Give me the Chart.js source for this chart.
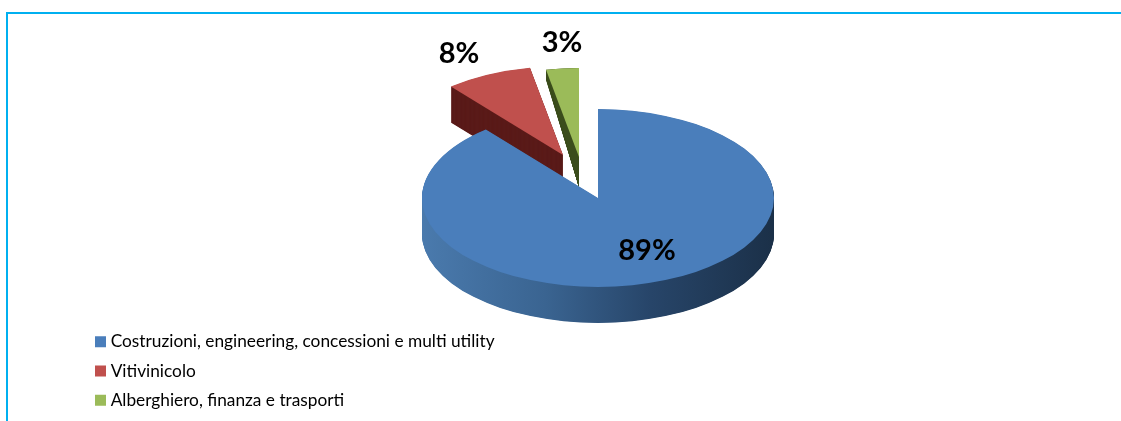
<!DOCTYPE html>
<html>
<head>
<meta charset="utf-8">
<style>
  html, body { margin: 0; padding: 0; background: #fff; }
  #wrap { position: relative; width: 1121px; height: 421px; overflow: hidden; }
  #frame { position: absolute; left: 6px; top: 12px; width: 1200px; height: 500px; border: 2px solid #00b0f0; box-sizing: border-box; }
  canvas { position: absolute; left: 0; top: 0; }
</style>
<script src="https://cdn.jsdelivr.net/npm/chart.js@4"></script>
</head>
<body>
<div id="wrap">
  <div id="frame"></div>
  <canvas id="chart" width="1121" height="421"></canvas>
</div>
<script>
const categories = [
    "Costruzioni, engineering, concessioni e multi utility",
    "Vitivinicolo",
    "Alberghiero, finanza e trasporti",
];
const shares = [89, 8, 3];
const sliceColors = ["#4a7ebb", "#c0504d", "#9bbb59"];

// look of the fake 3D pie
const PIE_X = 598;
const PIE_Y = 198;
const PIE_RADIUS = 176;
const SQUASH = 0.505;
const DEPTH = 36;
const EXPLODE = [[0, 0], [-35, -43], [-19, -41]];
const GREEN_APEX_DROP = 30;
const GREEN_RIM_DROP = 10;
const LABEL_POS = [[647, 251], [459, 54], [562, 43]];
const DRAW_ORDER = [2, 1, 0];

function sideFill(ctx, index) {
    if (index === 1) return "#5a1b19";
    if (index === 2) return "#3b4d1c";
    const grad = ctx.createLinearGradient(PIE_X - PIE_RADIUS, 0, PIE_X + PIE_RADIUS, 0);
    grad.addColorStop(0, "#4a7aad");
    grad.addColorStop(0.35, "#3a6491");
    grad.addColorStop(0.65, "#274569");
    grad.addColorStop(1, "#1b3048");
    return grad;
}

function slicePath(ctx, arc, x, y, apexDrop) {
    // ellipse in screen space, angles and radius come from the chart's arc element
    ctx.beginPath();
    ctx.moveTo(x, y + (apexDrop || 0));
    ctx.ellipse(x, y, arc.outerRadius, arc.outerRadius * SQUASH, 0, arc.startAngle, arc.endAngle);
    ctx.closePath();
}

const pie3d = {
    id: "pie3d",
    afterLayout(chart) {
        // legend sits bottom left, under the pie, out of the layout flow
        const legend = chart.legend;
        const w = legend.width, h = legend.height;
        legend.left = 87;
        legend.right = 87 + w;
        legend.top = 321;
        legend.bottom = 321 + h;
    },
    beforeDatasetsDraw(chart) {
        const ctx = chart.ctx;
        const arcs = chart.getDatasetMeta(0).data;
        DRAW_ORDER.forEach((i) => {
            const arc = arcs[i];
            const x = PIE_X + EXPLODE[i][0];
            const y = PIE_Y + EXPLODE[i][1];
            ctx.fillStyle = sideFill(ctx, i);
            if (i === 2) {
                // the green wedge wall gets thinner towards its outer edge
                for (let d = GREEN_RIM_DROP; d >= 0; d -= 0.5) {
                    slicePath(ctx, arc, x, y + d, GREEN_APEX_DROP - d);
                    ctx.fill();
                }
            } else {
                for (let d = DEPTH; d > 0; d -= 0.5) {
                    slicePath(ctx, arc, x, y + d);
                    ctx.fill();
                }
            }
            ctx.fillStyle = sliceColors[i];
            slicePath(ctx, arc, x, y);
            ctx.fill();
        });
        return false;
    },
    afterDraw(chart) {
        const ctx = chart.ctx;
        ctx.save();
        ctx.fillStyle = "#000";
        ctx.font = "bold 29px Lato";
        ctx.textAlign = "center";
        ctx.textBaseline = "middle";
        shares.forEach((v, i) => {
            ctx.fillText(v + "%", LABEL_POS[i][0], LABEL_POS[i][1]);
        });
        ctx.restore();
    },
};

new Chart(document.getElementById("chart"), {
    type: "pie",
    data: {
        labels: categories,
        datasets: [{ data: shares, backgroundColor: sliceColors, borderWidth: 0, radius: PIE_RADIUS }],
    },
    options: {
        responsive: false,
        animation: false,
        plugins: {
            tooltip: { enabled: false },
            legend: {
                position: "left",
                align: "start",
                labels: {
                    boxWidth: 3,
                    boxHeight: 3,
                    padding: 12,
                    color: "#111",
                    font: { family: "Lato", size: 17.3 },
                    generateLabels: () => categories.map((text, i) => ({
                        text,
                        fillStyle: sliceColors[i],
                        strokeStyle: sliceColors[i],
                        lineWidth: 8,
                        index: i,
                    })),
                },
            },
        },
    },
    plugins: [pie3d],
});
</script>
</body>
</html>
